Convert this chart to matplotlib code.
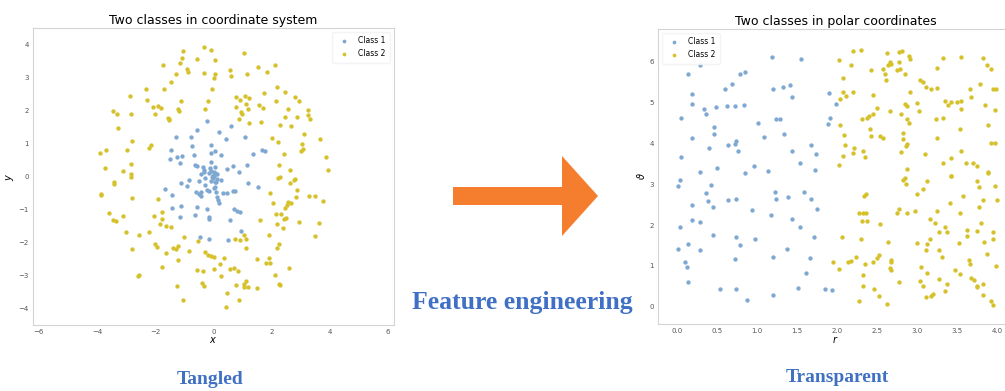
import numpy as np
import matplotlib
matplotlib.use("Agg")
import matplotlib.pyplot as plt
from matplotlib.patches import FancyArrow

# polar coordinates of the points
blue_r = [0.01, 0.03, 0.01, 0.03, 0.05, 0.05, 0.13, 0.18, 0.18, 0.18, 0.18, 0.19, 0.28, 0.29, 0.28, 0.14,
          0.10, 0.12, 0.13, 0.28, 0.33, 0.36, 0.36, 0.39, 0.40, 0.42, 0.45, 0.46, 0.46, 0.45, 0.49, 0.50,
          0.53, 0.60, 0.62, 0.64, 0.64, 0.69, 0.72, 0.72, 0.73, 0.74, 0.72, 0.73, 0.74, 0.76, 0.78, 0.79,
          0.85, 0.83, 0.85, 0.87, 0.93, 0.96, 0.97, 1.01, 1.08, 1.14, 1.17, 1.19, 1.20, 1.20, 1.20, 1.22,
          1.23, 1.29, 1.24, 1.32, 1.33, 1.37, 1.39, 1.41, 1.43, 1.43, 1.43, 1.51, 1.53, 1.53, 1.55, 1.59,
          1.61, 1.66, 1.67, 1.67, 1.72, 1.73, 1.71, 1.75, 1.85, 1.90, 1.91, 1.89, 1.94, 1.99]
blue_theta = [2.95, 3.11, 1.42, 1.96, 3.66, 4.63, 5.70, 5.21, 4.96, 4.14, 2.49, 2.12, 2.08, 3.29, 1.38, 1.55,
              1.09, 0.97, 0.62, 5.91, 4.84, 4.73, 2.78, 2.58, 3.89, 2.99, 2.45, 4.39, 4.22, 1.75, 4.88, 3.40,
              0.44, 5.32, 4.92, 3.95, 2.62, 5.46, 4.92, 3.98, 4.06, 2.63, 1.18, 1.71, 0.44, 3.81, 1.51, 5.70,
              5.74, 4.94, 3.28, 0.16, 2.37, 3.44, 1.67, 4.49, 4.16, 3.32, 2.25, 6.12, 5.33, 1.22, 0.29, 2.80,
              4.59, 4.59, 2.63, 5.37, 4.22, 1.42, 2.70, 5.43, 5.13, 3.81, 2.14, 0.46, 3.52, 1.96, 6.07, 2.80,
              0.83, 1.19, 3.96, 2.63, 3.36, 3.73, 1.71, 2.39, 0.44, 5.23, 4.63, 4.47, 0.41, 4.96]

yellow_r = [2.20, 2.30, 2.02, 2.18, 2.62, 2.77, 2.81, 2.90, 2.91, 2.66,
            2.68, 2.64, 2.77, 2.58, 2.75, 2.79, 2.60, 2.43, 2.08, 2.85,
            2.61, 3.04, 3.08, 3.11, 3.18, 3.25, 3.25, 3.32, 3.55, 3.82,
            3.88, 3.93, 2.07, 2.11, 2.20, 2.04, 2.45, 2.91, 2.85, 2.87,
            3.00, 3.02, 3.35, 3.39, 3.43, 3.50, 3.55, 3.55, 3.68, 3.66,
            3.79, 3.95, 3.99, 3.85, 3.97, 2.50, 2.45, 2.40, 2.38, 2.31,
            2.66, 2.80, 2.88, 2.90, 3.24, 3.33, 2.04, 2.41, 2.43, 2.54,
            2.58, 2.82, 2.82, 2.88, 2.86, 2.80, 3.10, 3.25, 3.54, 3.89,
            3.93, 3.98, 3.55, 2.09, 2.10, 2.21, 2.20, 2.07, 2.33, 2.35,
            2.03, 3.32, 3.43, 3.61, 3.70, 3.75, 3.89, 2.87, 2.85, 3.43,
            2.83, 2.86, 3.12, 3.42, 3.75, 3.78, 3.89, 3.97, 3.08, 3.00,
            2.36, 2.34, 3.58, 4.00, 3.82, 2.28, 2.32, 2.36, 2.31, 2.37,
            2.54, 2.75, 2.77, 2.88, 2.98, 3.25, 3.41, 3.54, 3.77, 3.16,
            3.22, 3.35, 3.37, 3.27, 3.63, 3.75, 3.80, 3.95, 3.95, 3.62,
            3.53, 3.16, 3.12, 3.00, 3.11, 3.27, 3.31, 3.84, 3.87, 2.06,
            2.30, 2.64, 1.95, 2.02, 2.14, 2.18, 2.24, 2.35, 2.45, 2.50,
            2.53, 2.67, 2.68, 2.66, 2.68, 2.32, 2.33, 2.46, 2.53, 2.28,
            2.62, 2.77, 3.05, 3.13, 3.04, 3.08, 3.27, 3.37, 3.48, 3.54,
            3.65, 3.66, 3.68, 3.71, 3.75, 3.75, 3.82, 3.83, 3.99, 3.35,
            3.11, 3.18, 3.20, 3.92, 3.95]
yellow_theta = [6.26, 6.28, 6.03, 5.91, 6.21, 6.24, 6.26, 6.14, 6.07, 5.99,
                5.95, 5.91, 5.99, 5.83, 5.79, 5.81, 5.70, 5.79, 5.60, 5.70,
                5.54, 5.54, 5.50, 5.37, 5.32, 5.35, 5.85, 6.10, 6.12, 6.09,
                5.91, 5.81, 5.25, 5.15, 5.25, 5.09, 5.19, 5.25, 4.96, 4.91,
                5.00, 4.80, 5.05, 4.94, 5.02, 5.02, 5.05, 4.84, 5.13, 5.33,
                5.46, 5.32, 5.32, 4.94, 4.82, 4.86, 4.72, 4.68, 4.63, 4.59,
                4.80, 4.72, 4.59, 4.51, 4.59, 4.61, 4.44, 4.35, 4.18, 4.18,
                4.14, 4.26, 4.10, 3.98, 3.94, 3.79, 3.75, 4.14, 4.35, 4.44,
                4.00, 4.00, 3.81, 4.20, 3.95, 3.89, 3.77, 3.69, 3.81, 3.67,
                3.48, 3.51, 3.65, 3.52, 3.51, 3.44, 3.28, 3.37, 3.15, 3.19,
                3.11, 3.01, 3.09, 3.21, 3.07, 2.93, 3.29, 2.96, 2.88, 2.77,
                2.77, 2.72, 2.72, 2.62, 2.62, 2.30, 2.29, 2.29, 2.11, 2.11,
                2.03, 2.29, 2.39, 2.30, 2.35, 2.35, 2.55, 2.29, 2.44, 2.14,
                2.04, 1.96, 1.84, 1.84, 1.89, 1.86, 2.04, 1.84, 1.65, 1.73,
                1.56, 1.67, 1.55, 1.56, 1.38, 1.40, 1.22, 1.59, 1.30, 1.71,
                1.65, 1.59, 1.10, 0.93, 1.10, 1.12, 1.22, 1.05, 1.10, 1.20,
                1.26, 1.15, 1.10, 0.95, 0.89, 0.79, 0.52, 0.44, 0.27, 0.15,
                0.08, 0.60, 0.97, 0.82, 0.63, 0.52, 0.68, 0.56, 0.89, 0.81,
                1.14, 1.05, 0.71, 0.66, 0.52, 0.48, 0.56, 0.30, 1.01, 0.39,
                0.25, 0.27, 0.31, 0.15, 0.05]

class_labels = ["Class 1", "Class 2"]
BLUE = "#7ea8d2"
YELLOW = "#d6c12a"
TEXT_BLUE = "#3f70c4"
ORANGE = "#f47d2e"

W, H = 1005, 391
fig = plt.figure(figsize=(W / 100, H / 100), dpi=100)

# overlay in pixel coordinates for arrow and captions
over = fig.add_axes([0, 0, 1, 1])
over.set_xlim(0, W)
over.set_ylim(H, 0)
over.axis("off")
over.add_patch(FancyArrow(453, 196, 145, 0, width=18, head_width=80, head_length=36,
                          length_includes_head=True, color=ORANGE, lw=0))
serif = dict(family=["Liberation Serif", "DejaVu Serif"], weight="bold", color=TEXT_BLUE)
over.text(522, 303, "Feature engineering", fontsize=18.5, ha="center", va="center", **serif)
over.text(210, 379, "Tangled", fontsize=14, ha="center", va="center", **serif)
over.text(837, 378, "Transparent", fontsize=14, ha="center", va="center", **serif)


def px_axes(left, top, right, bottom):
    return fig.add_axes([left / W, 1 - bottom / H, (right - left) / W, (bottom - top) / H])


def style(ax):
    for s in ax.spines.values():
        s.set_color("#d4d4d4")
        s.set_linewidth(0.8)
    ax.tick_params(length=0, labelsize=5, colors="#555555", pad=3)


br = np.array(blue_r)
bt = np.array(blue_theta)
yr = np.array(yellow_r)
yt = np.array(yellow_theta)

# left: cartesian view
ax1 = px_axes(33, 28, 394, 325)
ax1.scatter(br * np.cos(bt), br * np.sin(bt), s=4.5, color=BLUE, label=class_labels[0])
ax1.scatter(yr * np.cos(yt), yr * np.sin(yt), s=4.5, color=YELLOW, label=class_labels[1])
ax1.set_xlim(-6.2, 6.2)
ax1.set_ylim(-4.5, 4.5)
ax1.set_xticks(np.arange(-6, 7, 2))
ax1.set_yticks(np.arange(-4, 5, 1))
ax1.set_xlabel("$x$", fontsize=7, labelpad=0)
ax1.set_ylabel("$y$", fontsize=7, labelpad=2)
ax1.set_title("Two classes in coordinate system", fontsize=9, pad=3)
ax1.legend(loc="upper right", fontsize=5.5, markerscale=0.8, frameon=True,
           edgecolor="#f2f2f2", handletextpad=0.8, borderpad=0.6)
style(ax1)

# right: polar view
ax2 = px_axes(658, 29, 1013, 324)
ax2.scatter(br, bt, s=4.5, color=BLUE, label=class_labels[0])
ax2.scatter(yr, yt, s=4.5, color=YELLOW, label=class_labels[1])
ax2.set_xlim(-0.24, 4.2)
ax2.set_ylim(-0.42, 6.8)
ax2.set_xticks(np.arange(0, 4.01, 0.5))
ax2.set_yticks(np.arange(0, 7, 1))
ax2.set_xlabel("$r$", fontsize=7, labelpad=0)
ax2.set_ylabel(r"$\vartheta$", fontsize=7, labelpad=2)
ax2.set_title("Two classes in polar coordinates", fontsize=9, pad=3)
ax2.legend(loc="upper left", fontsize=5.5, markerscale=0.8, frameon=True,
           edgecolor="#f2f2f2", handletextpad=0.8, borderpad=0.6)
style(ax2)

fig.savefig("out.png", dpi=100)
